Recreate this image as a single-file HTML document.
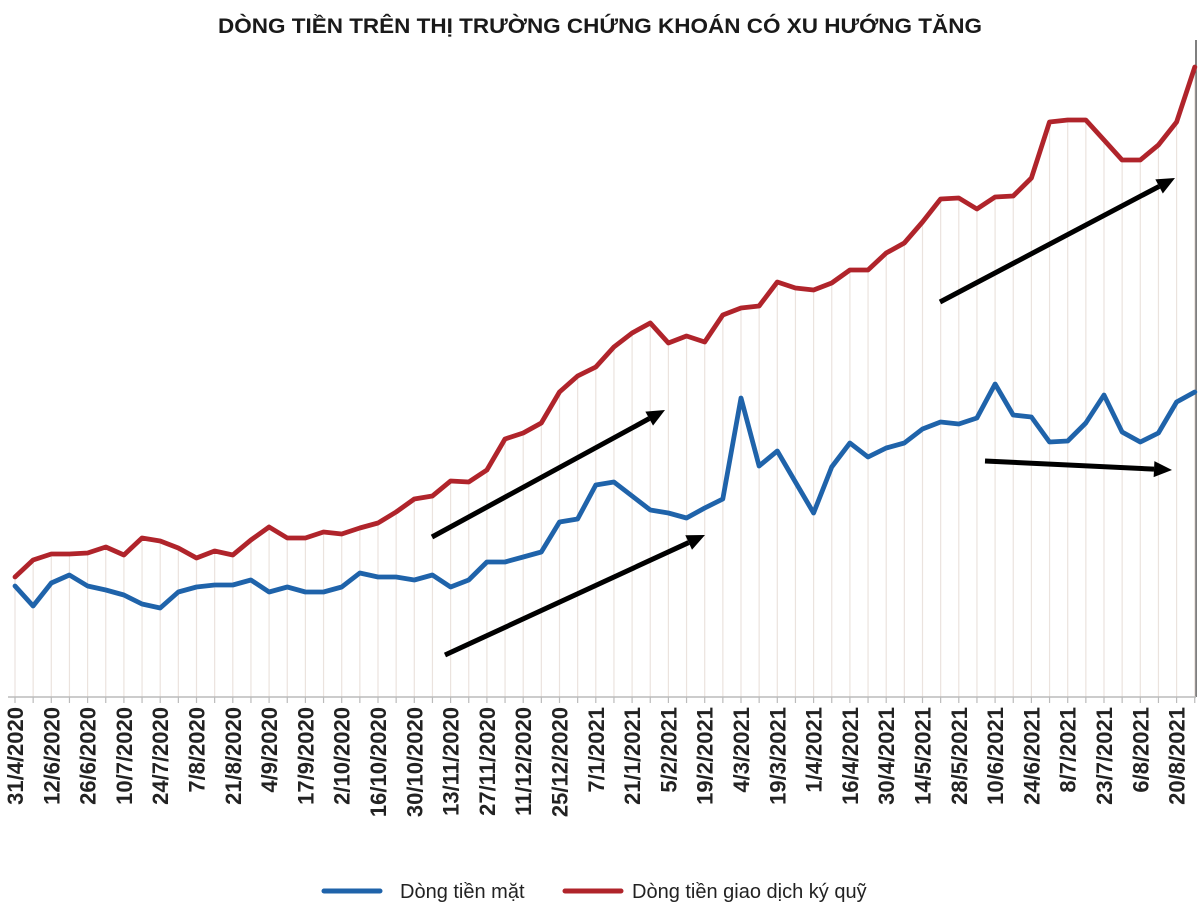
<!DOCTYPE html>
<html><head><meta charset="utf-8"><style>
html,body{margin:0;padding:0;background:#fff;}
svg{display:block;font-family:"Liberation Sans",sans-serif;}
</style></head><body>
<svg id="chart" width="1200" height="916" viewBox="0 0 1200 916" xmlns="http://www.w3.org/2000/svg">
<text x="600" y="33" text-anchor="middle" font-size="21" font-weight="bold" fill="#1a1a1a" textLength="764" lengthAdjust="spacingAndGlyphs">DÒNG TIỀN TRÊN THỊ TRƯỜNG CHỨNG KHOÁN CÓ XU HƯỚNG TĂNG</text>
<line x1="1196" y1="40" x2="1196" y2="697" stroke="#555" stroke-width="1.5"/>
<g id="grid"></g>
<line x1="8" y1="697" x2="1196" y2="697" stroke="#bbb" stroke-width="1.5"/>
<g id="ticks"></g>
<g id="series"></g>
<g id="arrows"></g>
<g id="labels"></g>
<g>
<line x1="324" y1="891" x2="380" y2="891" stroke="#1f63aa" stroke-width="5" stroke-linecap="round"/>
<text x="400" y="898" font-size="20" fill="#222">Dòng tiền mặt</text>
<line x1="565" y1="891" x2="621" y2="891" stroke="#b0242b" stroke-width="5" stroke-linecap="round"/>
<text x="632" y="898" font-size="20" fill="#222">Dòng tiền giao dịch ký quỹ</text>
</g>
</svg>
<script>
const tickLabels = ["31/4/2020","12/6/2020","26/6/2020","10/7/2020","24/7/2020","7/8/2020","21/8/2020","4/9/2020","17/9/2020","2/10/2020","16/10/2020","30/10/2020","13/11/2020","27/11/2020","11/12/2020","25/12/2020","7/1/2021","21/1/2021","5/2/2021","19/2/2021","4/3/2021","19/3/2021","1/4/2021","16/4/2021","30/4/2021","14/5/2021","28/5/2021","10/6/2021","24/6/2021","8/7/2021","23/7/2021","6/8/2021","20/8/2021"];
const marginFlow = [120,137,143,143,144,150,142,159,156,149,139,146,142,157,170,159,159,165,163,169,174,185,198,201,216,215,227,258,264,274,305,321,330,350,364,374,354,361,355,382,389,391,415,409,407,414,427,427,444,454,475,498,499,488,500,501,519,575,577,577,557,537,537,552,575,630];
const cashFlow = [111,91,114,122,111,107,102,93,89,105,110,112,112,117,105,110,105,105,110,124,120,120,117,122,110,117,135,135,140,145,175,178,212,215,201,187,184,179,189,198,299,231,246,215,184,230,254,240,249,254,268,275,273,279,313,282,280,255,256,274,302,265,255,264,295,305];
const NS='http://www.w3.org/2000/svg';
const x0=15, dx=18.15, base=697;
function xScale(i){return x0+i*dx;}
function yScale(v){return base-v;}
function mk(tag,attrs,parent){const e=document.createElementNS(NS,tag);for(const k in attrs)e.setAttribute(k,attrs[k]);parent.appendChild(e);return e;}
const grid=document.getElementById('grid'), ticks=document.getElementById('ticks'), series=document.getElementById('series'), labels=document.getElementById('labels'), arrows=document.getElementById('arrows');
marginFlow.forEach((v,i)=>{
  const g=mk('line',{x1:xScale(i),x2:xScale(i),y1:base,y2:yScale(v),stroke:'#ebe3de','stroke-width':1.2},grid);
  
  
  const t=mk('line',{x1:xScale(i),x2:xScale(i),y1:base,y2:base+6,stroke:'#bbb','stroke-width':1.2},ticks);
  
  
});
function path(arr,color,name){
  const d=arr.map((v,i)=>(i?'L':'M')+xScale(i).toFixed(1)+' '+yScale(v).toFixed(1)).join(' ');
  const p=mk('path',{d:d,fill:'none',stroke:color,'stroke-width':4.8,'stroke-linejoin':'round','stroke-linecap':'round'},series);
  
  
}
path(marginFlow,'#b0242b','margin-flow-line');
path(cashFlow,'#1f63aa','cash-flow-line');
tickLabels.forEach((s,k)=>{
  const x=xScale(k*2)+8;
  const t=mk('text',{x:0,y:0,transform:'translate('+x+',707) rotate(-90)','text-anchor':'end','font-size':22,fill:'#222','font-weight':'bold'},labels);
  t.textContent=s;
  
  
});
const arrowDefs=[[432,537,665,410],[445,655,705,535],[940,302,1175,178],[985,461,1172,470]];
arrowDefs.forEach(a=>{
  const [x1,y1,x2,y2]=a;const ang=Math.atan2(y2-y1,x2-x1);const L=18,W=8;
  const bx=x2-L*Math.cos(ang), by=y2-L*Math.sin(ang);
  const l=mk('line',{x1:x1,y1:y1,x2:bx,y2:by,stroke:'#000','stroke-width':5},arrows);
  
  
  const px=-Math.sin(ang)*W, py=Math.cos(ang)*W;
  const h=mk('polygon',{points:`${x2},${y2} ${bx+px},${by+py} ${bx-px},${by-py}`,fill:'#000'},arrows);
  
  
});
</script>
</body></html>
